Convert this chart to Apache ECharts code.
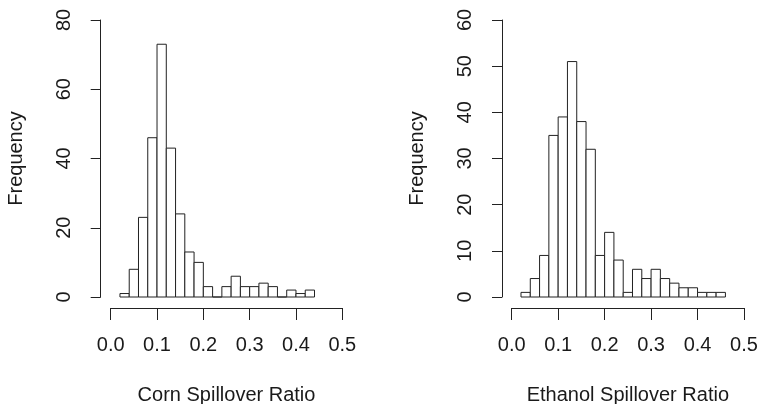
<!DOCTYPE html>
<html>
<head>
<meta charset="utf-8">
<script src="https://cdn.jsdelivr.net/npm/echarts@6/dist/echarts.min.js"></script>
<style>
html,body{margin:0;padding:0;background:#fff;}
#chart{width:761px;height:404px;}
</style>
</head>
<body>
<div id="chart"></div>
<script>
// Bin left edges (width 0.02)
var cornBinStarts = [0.02,0.04,0.06,0.08,0.10,0.12,0.14,0.16,0.18,0.20,0.22,0.24,0.26,0.28,0.30,0.32,0.34,0.36,0.38,0.40,0.42];
var cornCounts    = [1,8,23,46,73,43,24,13,10,3,0,3,6,3,3,4,3,0,2,1,2];
var ethanolBinStarts = [0.02,0.04,0.06,0.08,0.10,0.12,0.14,0.16,0.18,0.20,0.22,0.24,0.26,0.28,0.30,0.32,0.34,0.36,0.38,0.40,0.42,0.44];
var ethanolCounts    = [1,4,9,35,39,51,38,32,9,14,8,1,6,4,6,4,3,2,2,1,1,1];
var binWidth = 0.02;
var xTicks = [0.0,0.1,0.2,0.3,0.4,0.5];
var cornYTicks = [0,20,40,60,80];
var ethanolYTicks = [0,10,20,30,40,50,60];
var xNames = ['Corn Spillover Ratio','Ethanol Spillover Ratio'];
var yName = 'Frequency';

var FONT = 'Liberation Sans, Arial, sans-serif';
var FS = 20;
var TXT = '#1a1a1a';
var LINE = '#222';

function pairs(xs, ys){ return xs.map(function(x,i){ return [x, ys[i]]; }); }

function renderHist(params, api){
  var x0 = api.value(0), c = api.value(1);
  var p0 = api.coord([x0, 0]);
  var p1 = api.coord([x0 + binWidth, c]);
  return {
    type:'rect',
    shape:{x:p0[0], y:p1[1], width:p1[0]-p0[0], height:p0[1]-p1[1]},
    style:{fill:'#fff', stroke:LINE, lineWidth:1}
  };
}

function xAxisDef(idx, name){
  return {
    type:'value', gridIndex:idx, min:xTicks[0], max:xTicks[xTicks.length-1],
    interval:0.1, offset:11,
    axisLine:{show:true, onZero:false, lineStyle:{color:LINE, width:1}},
    axisTick:{show:true, length:12, lineStyle:{color:LINE, width:1}},
    splitLine:{show:false},
    axisLabel:{show:true, margin:27, fontFamily:FONT, fontSize:FS, color:TXT,
      formatter:function(v){ return v.toFixed(1); }},
    name:name, nameLocation:'middle', nameGap:77,
    nameTextStyle:{fontFamily:FONT, fontSize:FS, color:TXT}
  };
}
function yAxisDef(idx, ticks, offset, labelMargin, nameGap){
  return {
    type:'value', gridIndex:idx, min:ticks[0], max:ticks[ticks.length-1],
    interval:ticks[1]-ticks[0], offset:offset,
    axisLine:{show:true, onZero:false, lineStyle:{color:LINE, width:1}},
    axisTick:{show:true, length:10, lineStyle:{color:LINE, width:1}},
    splitLine:{show:false},
    axisLabel:{show:true, rotate:90, margin:labelMargin, fontFamily:FONT, fontSize:FS, color:TXT},
    name:yName, nameLocation:'middle', nameGap:nameGap, nameRotate:90,
    nameTextStyle:{fontFamily:FONT, fontSize:FS, color:TXT}
  };
}

var chart = echarts.init(document.getElementById('chart'));
chart.setOption({
  animation:false,
  backgroundColor:'#fff',
  grid:[
    {left:110.7, top:20, width:231.6, height:277, outerBoundsMode:'none', containLabel:false},
    {left:511.7, top:20, width:232.3, height:277, outerBoundsMode:'none', containLabel:false}
  ],
  xAxis:[ xAxisDef(0, xNames[0]), xAxisDef(1, xNames[1]) ],
  yAxis:[ yAxisDef(0, cornYTicks, 10, 26, 74), yAxisDef(1, ethanolYTicks, 9.7, 27, 75) ],
  series:[
    {type:'custom', xAxisIndex:0, yAxisIndex:0, renderItem:renderHist, data:pairs(cornBinStarts, cornCounts), clip:false},
    {type:'custom', xAxisIndex:1, yAxisIndex:1, renderItem:renderHist, data:pairs(ethanolBinStarts, ethanolCounts), clip:false}
  ]
});
</script>
</body>
</html>
